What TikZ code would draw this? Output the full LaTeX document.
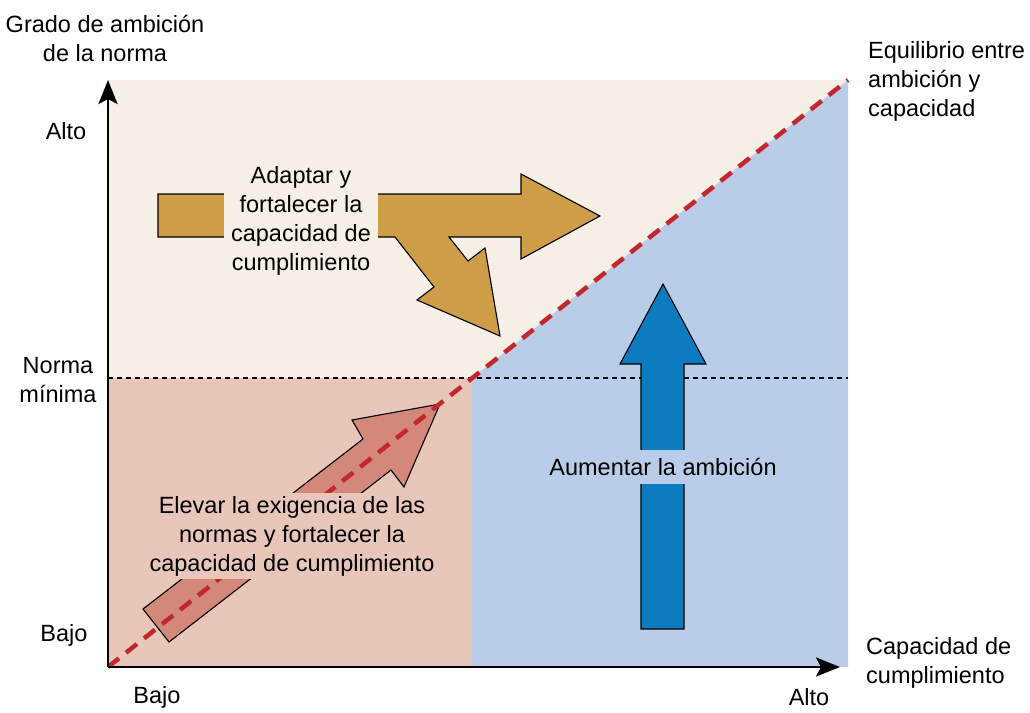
\documentclass[tikz,border=0pt]{standalone}
\usepackage{fontspec}
\setmainfont{Liberation Sans}
\usetikzlibrary{arrows.meta}

\definecolor{creamBg}{HTML}{F5EFE5}
\definecolor{pinkBg}{HTML}{E8C7BA}
\definecolor{blueBg}{HTML}{B9CDE8}
\definecolor{goldArrow}{HTML}{CE9D48}
\definecolor{salmonArrow}{HTML}{D4887A}
\definecolor{blueArrow}{HTML}{0D7BBF}
\definecolor{balanceRed}{HTML}{C1272D}

\begin{document}
\begin{tikzpicture}[x=1pt, y=-1pt,
    lbl/.style={font=\fontsize{23.5}{29}\selectfont, align=center, inner sep=0pt},
    bigarrow/.style={draw=black, line width=1.1pt, line join=miter},
    axis/.style={line width=2.8pt, -{Stealth[length=24pt, width=19pt, inset=5pt]}}]
    \useasboundingbox (0,0) rectangle (1030,712);

    % Regions
    \fill[creamBg] (108,80) rectangle (848,378);
    \fill[pinkBg] (108,378) rectangle (472,667);
    \fill[blueBg] (472,667) -- (848,667) -- (848,80) -- (472,378) -- cycle;

    % Reference points
    \coordinate (O) at (108,667);
    \coordinate (ytop) at (108,80);
    \coordinate (xend) at (840,667);
    \coordinate (minL) at (108,378);
    \coordinate (minR) at (848,378);
    \coordinate (balance) at (848,80);

    % Minimum norm
    \draw[line width=1.3pt, dash pattern=on 5pt off 4pt] (minL) -- (minR);

    % Salmon arrow (raise)
    \draw[bigarrow, fill=salmonArrow] (440,404) -- (352,420) -- (363,439) -- (143,609)
        -- (169,642) -- (391,470) -- (404,487) -- cycle;

    % Balance line
    \draw[balanceRed, line width=4.5pt, dash pattern=on 14pt off 9pt] (O) -- (balance);

    \node[lbl, fill=pinkBg, inner xsep=3pt, inner ysep=3pt] (raise) at (292,536)
        {Elevar la exigencia de las\\normas y fortalecer la\\capacidad de cumplimiento};

    % Gold arrow (adapt)
    \draw[bigarrow, fill=goldArrow] (158,194) -- (521,194) -- (521,174) -- (600,216)
        -- (521,259) -- (521,237) -- (449,237) -- (468,261) -- (485,248) -- (500,336)
        -- (417,300) -- (434,287) -- (395,237) -- (158,237) -- cycle;
    \node[lbl, fill=creamBg, inner xsep=7pt, inner ysep=2pt] (adapt) at (301,221)
        {Adaptar y\\fortalecer la\\capacidad de\\cumplimiento};

    % Blue arrow (ambition)
    \draw[bigarrow, fill=blueArrow] (663,284) -- (706,364) -- (684,364) -- (684,629)
        -- (641,629) -- (641,364) -- (620,364) -- cycle;
    \node[lbl, fill=blueBg, inner xsep=4pt, inner ysep=8pt] (ambition) at (663,467)
        {Aumentar la ambición};

    % Axes
    \draw[axis] (O) -- (ytop);
    \draw[axis] (O) -- (xend);

    % Axis labels
    \node[lbl] (ytitle) at (105,38) {Grado de ambición\\de la norma};
    \node[lbl] (yhigh) at (66,131) {Alto};
    \node[lbl] (ymin) at (58,380) {Norma\\mínima};
    \node[lbl] (ylow) at (64,635) {Bajo};
    \node[lbl] (xlow) at (157,697) {Bajo};
    \node[lbl] (xhigh) at (809,697) {Alto};
    \node[lbl, anchor=west, align=left] (xtitle) at (866,663) {Capacidad de\\cumplimiento};
    \node[lbl, anchor=west, align=left] (eqlabel) at (868,81) {Equilibrio entre\\ambición y\\capacidad};
\end{tikzpicture}
\end{document}
